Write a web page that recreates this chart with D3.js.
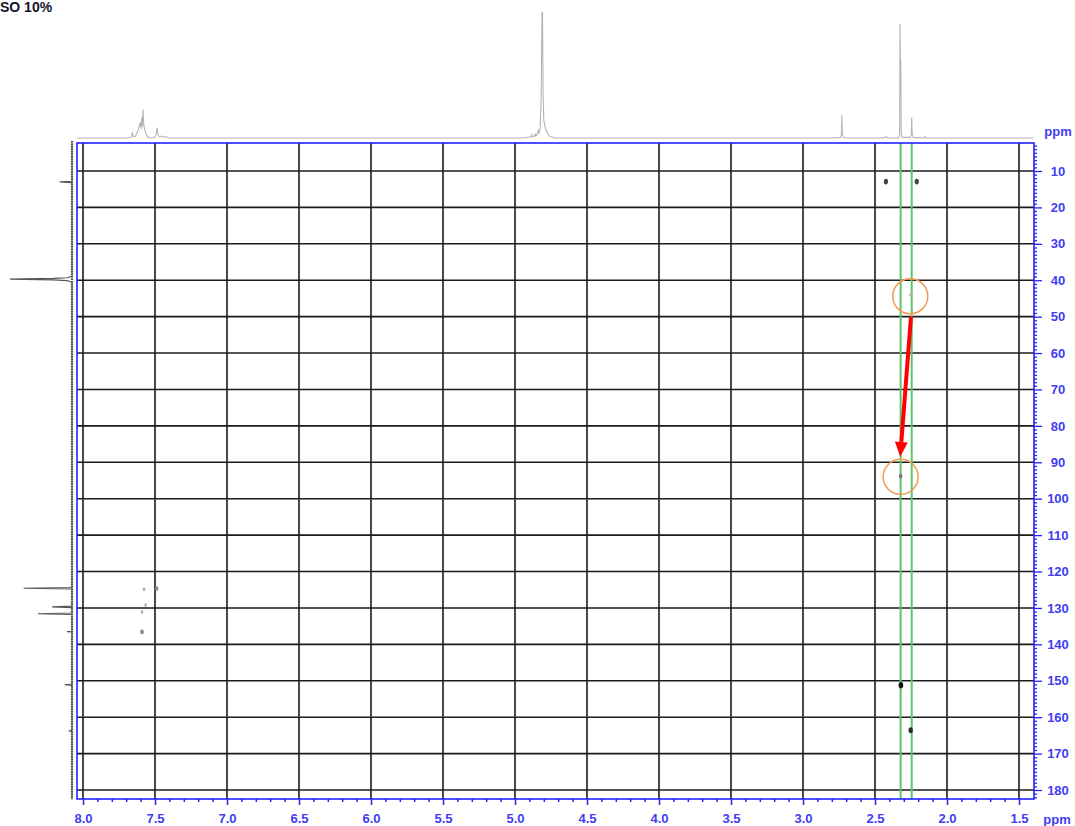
<!DOCTYPE html>
<html><head><meta charset="utf-8">
<script src="https://cdn.jsdelivr.net/npm/d3@7"></script>
<style>
body{margin:0;background:#fff;overflow:hidden}
svg{display:block;font-family:"Liberation Sans",Arial,sans-serif}
</style>
</head><body>
<svg id="c" width="1075" height="826"></svg>
<script>
// ---- data -------------------------------------------------------------
const title = "SO 10%";
const unitLabel = "ppm";

// 1H (horizontal) and 13C (vertical) axis ticks, ppm
const protonTicks = [8.0, 7.5, 7.0, 6.5, 6.0, 5.5, 5.0, 4.5, 4.0, 3.5, 3.0, 2.5, 2.0, 1.5];
const carbonTicks = [10, 20, 30, 40, 50, 60, 70, 80, 90, 100, 110, 120, 130, 140, 150, 160, 170, 180];

// 1H projection: [ppm, relative intensity %]
const protonTrace = [
  [8.04, 0], [7.70, 0], [7.665, 0.5], [7.658, 4], [7.650, 1], [7.635, 1.5], [7.620, 5],
  [7.604, 12], [7.598, 7], [7.592, 16], [7.588, 9], [7.583, 22], [7.578, 10], [7.570, 6],
  [7.562, 3], [7.552, 1], [7.535, 0], [7.50, 0.5], [7.492, 3], [7.486, 8], [7.480, 3],
  [7.470, 1], [7.45, 1.5], [7.44, 0.5], [7.42, 1], [7.40, 0],
  [4.95, 0], [4.888, 1], [4.884, 2.5], [4.879, 1], [4.866, 1.5], [4.86, 3], [4.855, 1.5],
  [4.845, 3], [4.838, 6], [4.832, 4], [4.825, 8], [4.818, 34], [4.8125, 98], [4.809, 98],
  [4.805, 34], [4.80, 14], [4.79, 8], [4.78, 5], [4.765, 2], [4.75, 1], [4.72, 0],
  [2.80, 0], [2.74, 0.5], [2.733, 3], [2.730, 18], [2.727, 3], [2.72, 0.5], [2.70, 0],
  [2.44, 0], [2.424, 1], [2.41, 0],
  [2.335, 0], [2.329, 3], [2.326, 89], [2.3235, 61], [2.321, 60], [2.318, 3], [2.31, 0.5],
  [2.255, 0.5], [2.248, 3], [2.245, 16], [2.242, 3], [2.235, 0.5],
  [2.16, 0], [2.153, 1], [2.146, 0], [1.40, 0]
];

// 13C projection: [ppm, relative intensity %]
const carbonTrace = [
  [2.4, 0], [12.8, 0], [13.0, 20], [13.2, 0],
  [38.9, 0], [39.3, 8], [39.5, 30], [39.7, 100], [39.9, 30], [40.1, 8], [40.5, 0],
  [124.4, 0], [124.6, 78], [124.8, 0],
  [129.5, 0], [129.7, 32], [129.9, 0],
  [131.4, 0], [131.6, 55], [131.8, 0],
  [136.4, 0], [136.5, 8], [136.6, 0],
  [150.9, 0], [151.1, 12], [151.3, 0],
  [163.6, 0], [163.8, 4], [164.0, 0],
  [182.6, 0]
];

// correlation peaks: [1H ppm, 13C ppm, relative intensity]
const crossPeaks = [
  [2.424, 12.9, 0.75], [2.210, 12.9, 0.75],
  [2.252, 44.0, 0.15],
  [2.322, 93.8, 0.45],
  [2.320, 151.2, 1.0],
  [2.252, 163.6, 0.85],
  [7.488, 124.7, 0.35], [7.576, 124.9, 0.15], [7.565, 129.2, 0.15],
  [7.590, 131.1, 0.15], [7.590, 136.6, 0.4]
];

// marked 1H shifts and highlighted correlations
const markerShifts = [2.322, 2.245];
const highlightPeaks = [[2.255, 44.4], [2.322, 94.0]];
const arrowFrom = [2.250, 50.0];
const arrowTo = [2.325, 88.5];

// ---- layout -----------------------------------------------------------
const svg = d3.select("#c");
const x = d3.scaleLinear().domain([8.0, 1.5]).range([83, 1019]);
const y = d3.scaleLinear().domain([10, 180]).range([171, 790]);
const frame = {left: 77, right: 1034, top: 143, bottom: 799};
const topI = d3.scaleLinear().domain([0, 100]).range([138, 10]);
const leftI = d3.scaleLinear().domain([0, 100]).range([72, 10]);
const blue = "#2222ff";
const labelBlue = "#3e3ef2";

// title
svg.append("text").attr("x", 0).attr("y", 12)
  .attr("font-size", 14).attr("font-weight", "bold").attr("fill", "#15152a")
  .text(title);

// grid
const g = svg.append("g");
g.selectAll("line.v").data(protonTicks).join("line")
  .attr("x1", d => x(d)).attr("x2", d => x(d))
  .attr("y1", frame.top).attr("y2", frame.bottom)
  .attr("stroke", "#1b1b1b").attr("stroke-width", 1.6);
g.selectAll("line.h").data(carbonTicks).join("line")
  .attr("x1", frame.left).attr("x2", frame.right)
  .attr("y1", d => y(d)).attr("y2", d => y(d))
  .attr("stroke", "#1b1b1b").attr("stroke-width", 1.6);

// marker lines at selected 1H shifts
svg.selectAll("line.mk").data(markerShifts).join("line")
  .attr("x1", d => x(d)).attr("x2", d => x(d))
  .attr("y1", frame.top).attr("y2", frame.bottom)
  .attr("stroke", "#5cc46c").attr("stroke-width", 2);

// correlation peaks
const shade = d3.scaleLinear().domain([0, 1]).range(["#d0d0d0", "#111"]);
const rad = d3.scaleSqrt().domain([0, 1]).range([0.8, 2.3]);
svg.selectAll("ellipse.pk").data(crossPeaks).join("ellipse")
  .attr("cx", d => x(d[0])).attr("cy", d => y(d[1]))
  .attr("rx", d => rad(d[2])).attr("ry", d => rad(d[2]) * 1.35)
  .attr("fill", d => shade(d[2]));

// highlight circles
svg.selectAll("circle.hl").data(highlightPeaks).join("circle")
  .attr("cx", d => x(d[0])).attr("cy", d => y(d[1])).attr("r", 17.5)
  .attr("fill", "none").attr("stroke", "#f39a52").attr("stroke-width", 1.5);

// arrow
{
  const x1 = x(arrowFrom[0]), y1 = y(arrowFrom[1]);
  const x2 = x(arrowTo[0]), y2 = y(arrowTo[1]);
  const ang = Math.atan2(y2 - y1, x2 - x1);
  const hl = 15, hw = 6.5;
  const bx = x2 - hl * Math.cos(ang), by = y2 - hl * Math.sin(ang);
  svg.append("line").attr("x1", x1).attr("y1", y1).attr("x2", bx).attr("y2", by)
    .attr("stroke", "#ff0000").attr("stroke-width", 4);
  const px = -Math.sin(ang) * hw, py = Math.cos(ang) * hw;
  svg.append("path")
    .attr("d", `M${x2},${y2}L${bx + px},${by + py}L${bx - px},${by - py}Z`)
    .attr("fill", "#ff0000");
}

// frame
svg.append("rect")
  .attr("x", frame.left).attr("y", frame.top)
  .attr("width", frame.right - frame.left).attr("height", frame.bottom - frame.top)
  .attr("fill", "none").attr("stroke", blue).attr("stroke-width", 1.6);

// bottom axis
const minorH = d3.range(80, 14, -1).map(v => v / 10).filter(v => Math.round(v * 10) % 5 !== 0);
const axB = svg.append("g").attr("transform", `translate(0,${frame.bottom})`);
axB.call(d3.axisBottom(x).tickValues(minorH).tickSize(3).tickFormat(""));
axB.call(g2 => g2.append("g").call(d3.axisBottom(x).tickValues(protonTicks).tickSize(6).tickFormat(d3.format(".1f"))));
axB.selectAll(".domain").remove();
axB.selectAll("line").attr("stroke", blue).attr("stroke-width", 1.5);
axB.selectAll("text").attr("y", 23.5).attr("dy", 0)
  .attr("font-size", 13).attr("font-weight", "bold").attr("fill", labelBlue)
  .attr("font-family", "Liberation Sans, Arial, sans-serif");

// right axis
const minorC = d3.range(3, 183, 1).filter(v => v % 10 !== 0);
const axR = svg.append("g").attr("transform", `translate(${frame.right},0)`);
axR.call(d3.axisRight(y).tickValues(minorC).tickSize(3).tickFormat(""));
axR.call(g2 => g2.append("g").call(d3.axisRight(y).tickValues(carbonTicks).tickSize(8).tickFormat(d3.format("d"))));
axR.selectAll(".domain").remove();
axR.selectAll("line").attr("stroke", blue).attr("stroke-width", 1.3);
axR.selectAll("text").attr("x", 24).attr("text-anchor", "middle")
  .attr("font-size", 13).attr("font-weight", "bold").attr("fill", labelBlue)
  .attr("font-family", "Liberation Sans, Arial, sans-serif");

// unit labels
[[1058, 135.5], [1057, 823.5]].forEach(p => {
  svg.append("text").attr("x", p[0]).attr("y", p[1]).attr("text-anchor", "middle")
    .attr("font-size", 13).attr("font-weight", "bold").attr("fill", labelBlue)
    .text(unitLabel);
});

// 1H projection (top)
svg.append("path").datum(protonTrace)
  .attr("d", d3.line().x(d => x(d[0])).y(d => topI(d[1])))
  .attr("fill", "none").attr("stroke", "#b4b4b4").attr("stroke-width", 1.1);

// 13C projection (left)
svg.append("line")
  .attr("x1", leftI(0)).attr("x2", leftI(0))
  .attr("y1", frame.top - 2).attr("y2", frame.bottom)
  .attr("stroke", "#4a4a4a").attr("stroke-width", 2.2).attr("stroke-dasharray", "1.5,1");
svg.append("path").datum(carbonTrace)
  .attr("d", d3.line().x(d => leftI(d[1])).y(d => y(d[0])))
  .attr("fill", "none").attr("stroke", "#555").attr("stroke-width", 1.1);
</script>
</body></html>
